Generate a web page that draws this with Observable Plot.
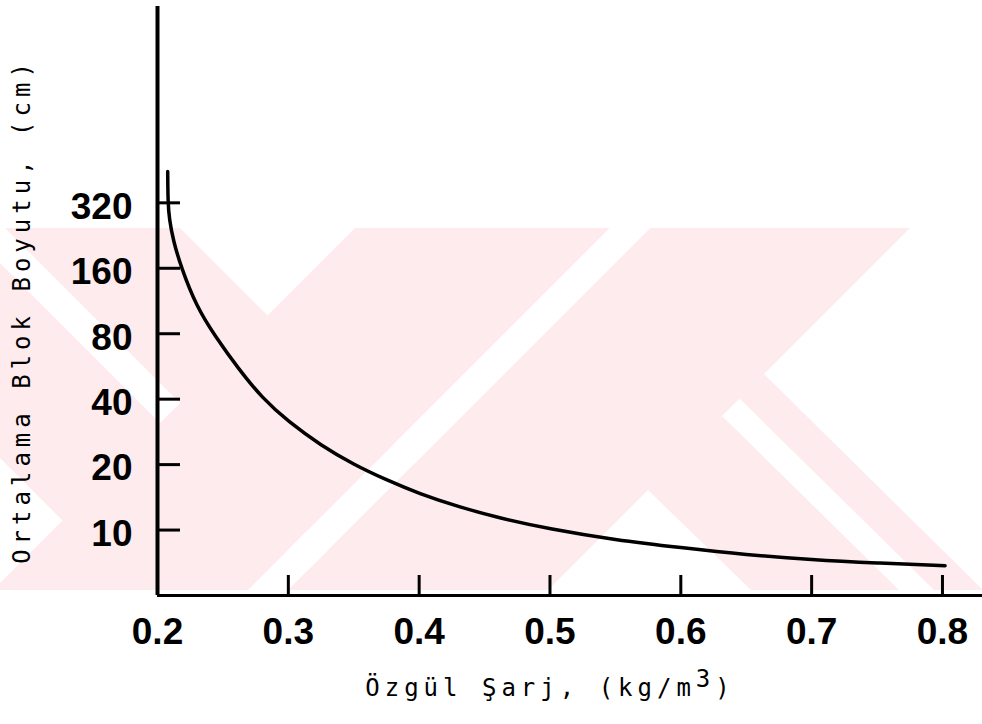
<!DOCTYPE html>
<html>
<head>
<meta charset="utf-8">
<script src="https://cdn.jsdelivr.net/npm/d3@7"></script>
<script src="https://cdn.jsdelivr.net/npm/@observablehq/plot@0.6"></script>
<style>
  html, body { margin: 0; padding: 0; background: #fff; }
  #chart svg g[aria-label="text"] text { letter-spacing: 5px; }
</style>
</head>
<body>
<div id="chart"></div>
<script>
// Specific charge (kg/m3) and mean block size (cm) along the curve
const charge = [0.2078, 0.2080, 0.2090, 0.2120, 0.2180, 0.2300, 0.2440, 0.2620, 0.2800, 0.3000,
                0.3250, 0.3500, 0.3750, 0.4000, 0.4300, 0.4600, 0.5000, 0.5500, 0.6000, 0.6500,
                0.7000, 0.7500, 0.8020];
const blockSize = [446, 320, 270, 215, 162, 106, 78, 55, 40.5, 31.5,
                   24.5, 20, 17, 14.7, 12.8, 11.4, 10.1, 9.0, 8.3, 7.7,
                   7.3, 7.05, 6.85];

const yTicks = [10, 20, 40, 80, 160, 320];
const xTicks = [0.2, 0.3, 0.4, 0.5, 0.6, 0.7, 0.8];

const yTitle = "Ortalama Blok Boyutu, (cm)";
const xTitleMain = "Özgül Şarj, (kg/m";
const xTitleSup = "3";
const xTitleEnd = ")";

const curve = charge.map((x, i) => ({x, y: blockSize[i]}));

const tickFont = {fontSize: 37, fontWeight: "bold", fontFamily: "Liberation Sans, Arial, sans-serif"};
const titleFont = {fontSize: 24, fontFamily: "DejaVu Sans Mono, monospace", fill: "#000"};

const plot = Plot.plot({
  width: 982,
  height: 724,
  marginTop: 6,
  marginBottom: 129,
  marginLeft: 157,
  marginRight: 0,
  style: {background: "transparent", color: "#000", overflow: "visible"},
  x: {domain: [0.2, 0.8306]},
  y: {type: "log", base: 2, domain: [5, 2560]},
  marks: [
    Plot.line(curve, {x: "x", y: "y", curve: "basis", stroke: "#000", strokeWidth: 3.5, strokeLinecap: "round"}),
    Plot.ruleX([0.2], {stroke: "#000", strokeWidth: 4}),
    Plot.ruleY([5], {stroke: "#000", strokeWidth: 3}),
    // inward tick marks
    Plot.axisY(yTicks, {tickSize: -23, strokeWidth: 3, tickFormat: () => "", label: null}),
    Plot.axisX(xTicks.slice(1), {tickSize: -20, strokeWidth: 3, tickFormat: () => "", label: null}),
    // tick labels
    Plot.axisY(yTicks, {tickSize: 0, tickPadding: 25, dy: 4, tickFormat: d => String(d), label: null, ...tickFont}),
    Plot.axisX(xTicks, {tickSize: 0, tickPadding: 22, tickFormat: d => d.toFixed(1), label: null, ...tickFont}),
    // axis titles
    Plot.text([yTitle], {frameAnchor: "left", textAnchor: "middle", rotate: -90, dx: -135, dy: 10, ...titleFont}),
    Plot.text([xTitleMain + xTitleSup + xTitleEnd], {frameAnchor: "bottom", textAnchor: "middle", dx: -20, dy: 100, ...titleFont})
  ]
});

// raise the exponent in the x title
d3.select(plot).selectAll('g[aria-label="text"] text')
  .filter(function() { return this.textContent === xTitleMain + xTitleSup + xTitleEnd; })
  .each(function() {
    const t = d3.select(this);
    t.text(xTitleMain);
    t.append("tspan").attr("dy", -9).text(xTitleSup);
    t.append("tspan").attr("dy", 9).text(xTitleEnd);
  });

// faint diagonal watermark bands printed behind the figure
(function watermark(svg) {
  const top = 228, bottom = 590, h = bottom - top, pink = "#fdebee";
  const back = (a, b) => [[a, top], [b, top], [b + h, bottom], [a + h, bottom]];   // "\" band
  const fwd = (a, b) => [[a, top], [b, top], [b - h, bottom], [a - h, bottom]];    // "/" band
  const layers = [
    [back(-230, -35), pink],
    [back(5, 180), pink],
    [fwd(355, 610), pink],
    [fwd(650, 910), pink],
    [fwd(610, 650), "#fff"],
    [[[722, 416], [648, 490], [751, bottom], [899, bottom]], pink],
    [[[764, 374], [739.5, 398.5], [934, bottom], [983, bottom]], pink]
  ];
  const g = d3.select(svg).insert("g", ":first-child").attr("aria-hidden", "true");
  g.append("clipPath").attr("id", "wm-clip")
    .append("rect").attr("x", 0).attr("y", top).attr("width", 982).attr("height", h);
  const inner = g.append("g").attr("clip-path", "url(#wm-clip)");
  for (const [pts, fill] of layers) {
    inner.append("polygon").attr("points", pts.map(p => p.join(",")).join(" ")).attr("fill", fill);
  }
})(plot);

document.getElementById("chart").append(plot);
</script>
</body>
</html>
